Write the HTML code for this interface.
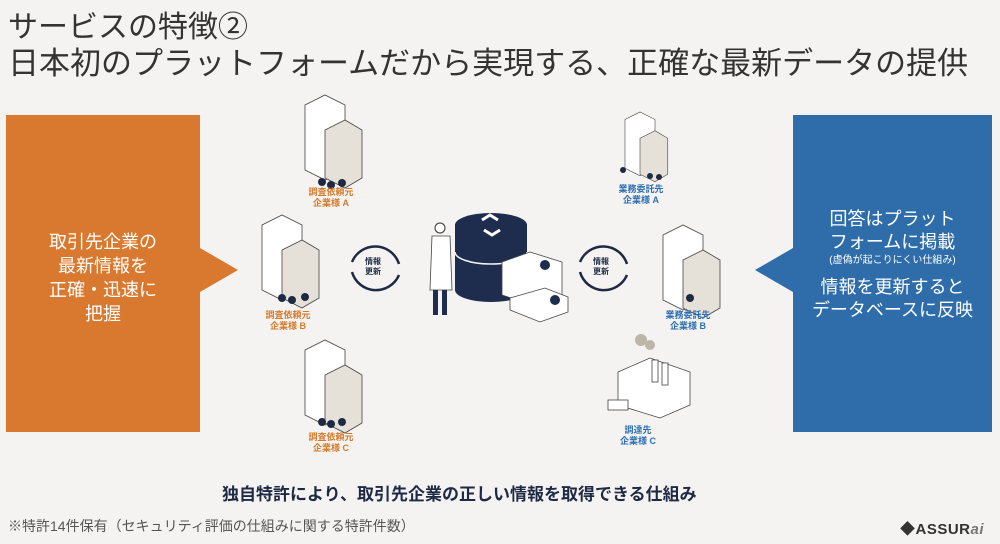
<!DOCTYPE html>
<html><head><meta charset="utf-8"><style>
body{margin:0;width:1000px;height:544px;background:#f4f3f1;overflow:hidden;position:relative;font-family:"Liberation Sans","Noto Sans CJK JP",sans-serif;}
.t{position:absolute;white-space:nowrap;}
.lbl{position:absolute;font-size:9px;font-weight:bold;text-align:center;line-height:11px;width:80px;}
.o{color:#d57a2c}.b{color:#2e6fb0}
</style></head><body>
<div class="t" style="left:8px;top:2px;font-size:30px;color:#333;">サービスの特徴②</div>
<div class="t" style="left:8px;top:38px;font-size:31px;color:#333;">日本初のプラットフォームだから実現する、正確な最新データの提供</div>

<svg width="1000" height="544" style="position:absolute;left:0;top:0">
<polygon points="6,115 200,115 200,248 238,270 200,292 200,432 6,432" fill="#d9792f"/>
<polygon points="793,115 992,115 992,432 793,432 793,292 755,270 793,248" fill="#2e6da9"/>
<g id="bld" fill="#fff" stroke="#444" stroke-width="0.8">
<polygon points="305,105 325,95 345,105 345,170 325,180 305,170"/>
<polygon points="325,130 345,120 362,130 362,178 345,188 325,178" fill="#e6e1d8"/>
</g>
<use href="#bld" x="-43" y="120"/>
<use href="#bld" x="0" y="245"/>
<g transform="translate(625,112) scale(0.75) translate(-305,-95)">
<use href="#bld"/>
</g>
<use href="#bld" x="358" y="130"/>
<g fill="#1e2a44"><circle cx="322" cy="182" r="4"/><circle cx="331" cy="185" r="4"/><circle cx="342" cy="183" r="4"/>
<circle cx="282" cy="298" r="4"/><circle cx="292" cy="300" r="4"/><circle cx="305" cy="297" r="4"/>
<circle cx="322" cy="422" r="4"/><circle cx="331" cy="424" r="4"/><circle cx="342" cy="422" r="4"/>
<circle cx="623" cy="170" r="3"/><circle cx="650" cy="176" r="3"/><circle cx="659" cy="177" r="3"/><circle cx="690" cy="298" r="4"/></g>
<!-- factory -->
<polygon points="618,372 650,358 690,372 690,405 660,418 618,405" fill="#fff" stroke="#444" stroke-width="0.8"/>
<rect x="652" y="360" width="6" height="22" fill="#fff" stroke="#444" stroke-width="0.8"/>
<rect x="662" y="363" width="6" height="22" fill="#fff" stroke="#444" stroke-width="0.8"/>
<circle cx="641" cy="340" r="6" fill="#bcb5aa"/><circle cx="650" cy="345" r="5" fill="#bcb5aa"/>
<rect x="608" y="400" width="20" height="10" fill="#fff" stroke="#444" stroke-width="0.8"/>
<!-- cycles -->
<g fill="none" stroke="#1e2a44" stroke-width="2.5">
<path d="M352,262 A25,25 0 0 1 399,264"/><path d="M399,275 A25,25 0 0 1 352,272"/>
<path d="M580,262 A25,25 0 0 1 627,264"/><path d="M627,275 A25,25 0 0 1 580,272"/>
</g>
<!-- database -->
<path d="M455,225 L455,290 A36,12 0 0 0 527,290 L527,225" fill="#1e2d4d"/>
<ellipse cx="491" cy="225" rx="36" ry="12" fill="#1e2d4d"/>
<path d="M455,252 A36,12 0 0 0 527,252" fill="none" stroke="#f4f3f1" stroke-width="1.5"/>
<path d="M482,220 l8,-5 l8,5 M500,230 l-8,5 l-8,-5" stroke="#fff" stroke-width="3" fill="none"/>
<polygon points="502,262 530,252 562,262 562,295 532,305 502,295" fill="#fff" stroke="#444" stroke-width="0.8"/>
<polygon points="510,298 545,288 568,297 568,312 540,322 510,310" fill="#fff" stroke="#444" stroke-width="0.8"/>
<circle cx="545" cy="265" r="5" fill="#1e2d4d"/><circle cx="555" cy="300" r="5" fill="#1e2d4d"/>
<!-- person -->
<circle cx="440" cy="228" r="5" fill="#fff" stroke="#333"/>
<polygon points="432,236 450,236 452,290 430,290" fill="#fff" stroke="#444" stroke-width="0.8"/>
<rect x="433" y="290" width="5" height="25" fill="#1e2d4d"/><rect x="442" y="290" width="5" height="25" fill="#1e2d4d"/>
</svg>
<div class="t" style="left:365px;top:257px;font-size:8px;font-weight:bold;color:#1e2a44;line-height:10px;text-align:center">情報<br>更新</div>
<div class="t" style="left:593px;top:257px;font-size:8px;font-weight:bold;color:#1e2a44;line-height:10px;text-align:center">情報<br>更新</div>

<div class="lbl o" style="left:291px;top:187px">調査依頼元<br>企業様 A</div>
<div class="lbl o" style="left:248px;top:310px">調査依頼元<br>企業様 B</div>
<div class="lbl o" style="left:291px;top:432px">調査依頼元<br>企業様 C</div>
<div class="lbl b" style="left:601px;top:184px">業務委託先<br>企業様 A</div>
<div class="lbl b" style="left:648px;top:310px">業務委託先<br>企業様 B</div>
<div class="lbl b" style="left:598px;top:425px">調達先<br>企業様 C</div>

<div class="t" style="left:6px;width:194px;top:230px;text-align:center;color:#fff;font-size:18px;line-height:24px;">取引先企業の<br>最新情報を<br>正確・迅速に<br>把握</div>
<div class="t" style="left:793px;width:199px;top:208px;text-align:center;color:#fff;font-size:18px;line-height:23px;">回答はプラット<br>フォームに掲載<br><span style="font-size:10px;line-height:14px;display:block">(虚偽が起こりにくい仕組み)</span><div style="height:8px"></div>情報を更新すると<br>データベースに反映</div>

<div class="t" style="left:222px;top:480px;font-size:17px;font-weight:bold;color:#1e2a44;">独自特許により、取引先企業の正しい情報を取得できる仕組み</div>
<div class="t" style="left:8px;top:516px;font-size:14px;color:#555;">※特許14件保有（セキュリティ評価の仕組みに関する特許件数）</div>
<div class="t" style="left:900px;top:518px;font-size:15px;font-weight:bold;color:#333;letter-spacing:0.5px">◆ASSUR<span style="color:#777;font-style:italic">ai</span></div>
</body></html>
